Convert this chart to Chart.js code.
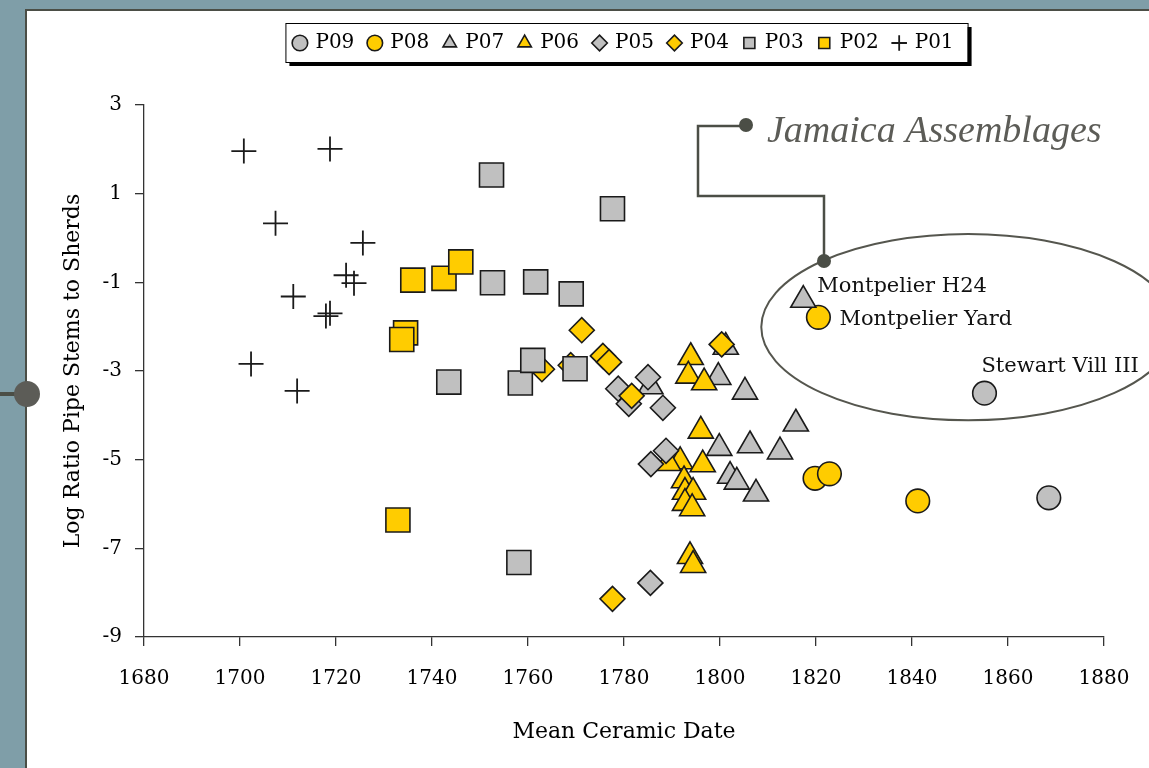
<!DOCTYPE html>
<html>
<head>
<meta charset="utf-8">
<title>Jamaica Assemblages</title>
<script src="https://cdn.jsdelivr.net/npm/chart.js@4.4.1/dist/chart.umd.min.js"></script>
<style>
  html, body { margin: 0; padding: 0; background: #7f9ea8; overflow: hidden; }
  #chart { display: block; }
</style>
</head>
<body>
<canvas id="chart" width="1149" height="768"></canvas>
<script>
// mean ceramic date (x) and log ratio pipe stems to sherds (y), one pair per phase
const p01Dates  = [1700.8, 1718.75, 1707.4, 1725.6, 1722.1, 1723.75, 1711.1, 1718.75, 1717.9, 1702.3, 1711.9];
const p01Ratios = [1.96, 2.01, 0.33, -0.11, -0.84, -1.02, -1.32, -1.70, -1.76, -2.84, -3.45];

const p02Dates  = [1736.0, 1742.5, 1746.0, 1734.5, 1733.7, 1732.9];
const p02Ratios = [-0.95, -0.91, -0.54, -2.14, -2.29, -6.36];

const p03Dates  = [1752.4, 1777.6, 1752.6, 1761.6, 1769.0, 1743.5, 1758.4, 1761.0, 1769.8, 1758.1];
const p03Ratios = [1.42, 0.66, -1.01, -0.99, -1.26, -3.25, -3.27, -2.76, -2.95, -7.32];

const p04Dates  = [1771.2, 1775.6, 1776.9, 1762.9, 1768.9, 1781.6, 1777.6, 1800.35];
const p04Ratios = [-2.08, -2.66, -2.80, -2.96, -2.87, -3.56, -8.14, -2.40];

const p05Dates  = [1785.0, 1778.8, 1781.0, 1788.1, 1788.75, 1785.6, 1785.5];
const p05Ratios = [-3.14, -3.40, -3.74, -3.83, -4.80, -5.10, -7.78];

const p06Dates  = [1793.9, 1793.4, 1796.7, 1796.0, 1791.7, 1796.4, 1789.2, 1792.5, 1792.7, 1794.4, 1792.7, 1794.2, 1793.75, 1794.4];
const p06Ratios = [-2.69, -3.11, -3.26, -4.35, -5.04, -5.11, -5.08, -5.47, -5.73, -5.73, -5.98, -6.10, -7.18, -7.38];

const p07Dates  = [1785.5, 1801.2, 1799.65, 1805.2, 1799.85, 1806.25, 1812.5, 1815.8, 1802.1, 1803.5, 1807.5, 1817.35];
const p07Ratios = [-3.35, -2.46, -3.14, -3.47, -4.74, -4.68, -4.82, -4.19, -5.37, -5.50, -5.77, -1.40];

const p08Dates  = [1820.5, 1819.8, 1822.8, 1841.2];
const p08Ratios = [-1.79, -5.42, -5.32, -5.93];

const p09Dates  = [1855.1, 1868.5];
const p09Ratios = [-3.50, -5.86];

const xMin = 1680, xMax = 1880, xStep = 20;
const yMin = -9, yMax = 3, yStep = 2;

// named sites: series, point index, label
const siteNames = [
  ['P07', 11, 'Montpelier H24'],
  ['P08', 0, 'Montpelier Yard'],
  ['P09', 0, 'Stewart Vill III']
];

// ring drawn round the Jamaica group, in data units
const ringCentre = [1851.7, -2.01];
const ringRadius = [43.1, 2.10];

const grey = '#c0c0c0';
const yellow = '#ffcc00';
const ink = '#1a1a1a';

// P01 first so it is painted on top; legend is reversed to read P09..P01
const series = [
  { name: 'P01', x: p01Dates, y: p01Ratios, shape: 'cross',    fill: ink,    r: 12.5, bw: 1.8 },
  { name: 'P02', x: p02Dates, y: p02Ratios, shape: 'rect',     fill: yellow, r: 17 },
  { name: 'P03', x: p03Dates, y: p03Ratios, shape: 'rect',     fill: grey,   r: 17 },
  { name: 'P04', x: p04Dates, y: p04Ratios, shape: 'rectRot',  fill: yellow, r: 12.5 },
  { name: 'P05', x: p05Dates, y: p05Ratios, shape: 'rectRot',  fill: grey,   r: 12.5 },
  { name: 'P06', x: p06Dates, y: p06Ratios, shape: 'triangle', fill: yellow, r: 14.5 },
  { name: 'P07', x: p07Dates, y: p07Ratios, shape: 'triangle', fill: grey,   r: 14.5 },
  { name: 'P08', x: p08Dates, y: p08Ratios, shape: 'circle',   fill: yellow, r: 11.8 },
  { name: 'P09', x: p09Dates, y: p09Ratios, shape: 'circle',   fill: grey,   r: 11.8 }
];

const datasets = series.map(s => ({
  label: s.name,
  data: s.x.map((d, i) => ({ x: d, y: s.y[i] })),
  pointStyle: s.shape,
  pointRadius: s.r,
  pointHoverRadius: s.r,
  backgroundColor: s.fill,
  borderColor: ink,
  borderWidth: s.bw || 1.6,
  pointBackgroundColor: s.fill,
  pointBorderColor: ink,
  pointBorderWidth: s.bw || 1.6
}));

const serif = 'DejaVu Serif';
const frameColor = '#4b4e46';

const slideFrame = {
  id: 'slideFrame',
  afterLayout(chart) {
    // centre the legend over the plot area rather than the canvas
    const lg = chart.legend, ca = chart.chartArea;
    const d = (ca.left + ca.right) / 2 - (lg.left + lg.right) / 2;
    lg.left += d;
    lg.right += d;
  },
  beforeDraw(chart) {
    const ctx = chart.ctx;
    ctx.save();
    ctx.fillStyle = '#7f9ea8';
    ctx.fillRect(0, 0, chart.width, chart.height);
    ctx.fillStyle = frameColor;
    ctx.fillRect(25, 9, chart.width - 25, chart.height - 9);
    ctx.fillStyle = '#ffffff';
    ctx.fillRect(27, 11, chart.width - 27, chart.height - 11);

    // boxed legend with a drop shadow
    const hb = chart.legend.legendHitBoxes;
    if (hb && hb.length) {
      const first = hb[0], last = hb[hb.length - 1];
      const x0 = first.left - 9;
      const x1 = last.left + last.width + 14;
      const cy = first.top + first.height / 2;
      const y0 = cy - 20, y1 = cy + 19;
      ctx.fillStyle = '#000';
      ctx.fillRect(x0 + 4, y0 + 4, x1 - x0, y1 - y0);
      ctx.fillStyle = '#fff';
      ctx.fillRect(x0, y0, x1 - x0, y1 - y0);
      ctx.strokeStyle = '#000';
      ctx.lineWidth = 1;
      ctx.strokeRect(x0 + 0.5, y0 + 0.5, x1 - x0, y1 - y0);
    }
    ctx.restore();
  },
  afterDraw(chart) {
    const { ctx, scales: { x, y } } = chart;
    ctx.save();

    // ring round the Jamaica group
    const cx = x.getPixelForValue(ringCentre[0]);
    const cy = y.getPixelForValue(ringCentre[1]);
    const rx = x.getPixelForValue(ringCentre[0] + ringRadius[0]) - cx;
    const ry = cy - y.getPixelForValue(ringCentre[1] + ringRadius[1]);
    ctx.beginPath();
    ctx.ellipse(cx, cy, rx, ry, 0, 0, Math.PI * 2);
    ctx.strokeStyle = '#55564e';
    ctx.lineWidth = 2;
    ctx.stroke();

    // site names next to their points
    const offsets = { 'Montpelier H24': [14, -8], 'Montpelier Yard': [21, 8], 'Stewart Vill III': [-3, -21] };
    ctx.font = '21px "' + serif + '"';
    ctx.fillStyle = '#111';
    ctx.textBaseline = 'alphabetic';
    ctx.textAlign = 'left';
    siteNames.forEach(([name, idx, text]) => {
      const di = series.findIndex(s => s.name === name);
      const pt = chart.getDatasetMeta(di).data[idx];
      const o = offsets[text];
      ctx.fillText(text, pt.x + o[0], pt.y + o[1]);
    });

    // callout from the heading down to the ring
    ctx.strokeStyle = frameColor;
    ctx.fillStyle = frameColor;
    ctx.lineWidth = 2.5;
    ctx.beginPath();
    ctx.moveTo(746, 126);
    ctx.lineTo(698, 126);
    ctx.lineTo(698, 196);
    ctx.lineTo(824, 196);
    ctx.lineTo(824, 261);
    ctx.stroke();
    ctx.beginPath(); ctx.arc(746, 125, 7, 0, Math.PI * 2); ctx.fill();
    ctx.beginPath(); ctx.arc(824, 261, 7, 0, Math.PI * 2); ctx.fill();

    ctx.font = 'italic 38px "Liberation Serif"';
    ctx.fillStyle = '#5c5c57';
    ctx.fillText('Jamaica Assemblages', 767, 142);

    // slide connector on the left edge
    ctx.strokeStyle = frameColor;
    ctx.lineWidth = 4;
    ctx.beginPath();
    ctx.moveTo(0, 394);
    ctx.lineTo(26, 394);
    ctx.stroke();
    ctx.beginPath(); ctx.arc(27, 394, 13, 0, Math.PI * 2); ctx.fill();

    ctx.restore();
  }
};

Chart.defaults.font.family = serif;
Chart.defaults.color = '#000';

new Chart(document.getElementById('chart').getContext('2d'), {
  type: 'scatter',
  data: { datasets },
  options: {
    responsive: false,
    animation: false,
    layout: { padding: { left: 40, right: 45, top: 18, bottom: 0 } },
    plugins: {
      legend: {
        position: 'top',
        reverse: true,
        labels: {
          usePointStyle: true,
          boxWidth: 11,
          boxHeight: 11,
          padding: 15,
          color: '#000',
          font: { family: serif, size: 20 }
        }
      },
      // empty spacer between the legend and the plot
      subtitle: { display: true, text: '', weight: 500, font: { size: 10 }, padding: { top: 0, bottom: 30 } },
      tooltip: { enabled: false }
    },
    scales: {
      x: {
        type: 'linear',
        min: xMin,
        max: xMax,
        ticks: {
          stepSize: xStep,
          padding: 21,
          maxRotation: 0,
          autoSkip: false,
          color: '#000',
          font: { family: serif, size: 20 },
          callback: v => String(v)
        },
        grid: { drawOnChartArea: false, drawTicks: true, tickLength: 9, color: '#333', lineWidth: 1.3 },
        border: { display: true, color: '#333', width: 1.3 },
        title: {
          display: true,
          text: 'Mean Ceramic Date',
          color: '#000',
          font: { family: serif, size: 22 },
          padding: { top: 0, bottom: 23 }
        },
        afterFit(s) {
          s.height = 131;
          s.paddingLeft = 0;
          s.paddingRight = 0;
        }
      },
      y: {
        type: 'linear',
        min: yMin,
        max: yMax,
        ticks: {
          stepSize: yStep,
          padding: 13,
          color: '#000',
          font: { family: serif, size: 20 },
          callback: v => String(v)
        },
        grid: { drawOnChartArea: false, drawTicks: true, tickLength: 9, color: '#333', lineWidth: 1.3 },
        border: { display: true, color: '#333', width: 1.3 },
        title: {
          display: true,
          text: 'Log Ratio Pipe Stems to Sherds',
          color: '#000',
          font: { family: serif, size: 22 },
          padding: { top: 20, bottom: 0 }
        },
        afterFit(s) {
          s.width = 104;
          s.paddingTop = 0;
          s.paddingBottom = 0;
        }
      }
    }
  },
  plugins: [slideFrame]
});
</script>
</body>
</html>
